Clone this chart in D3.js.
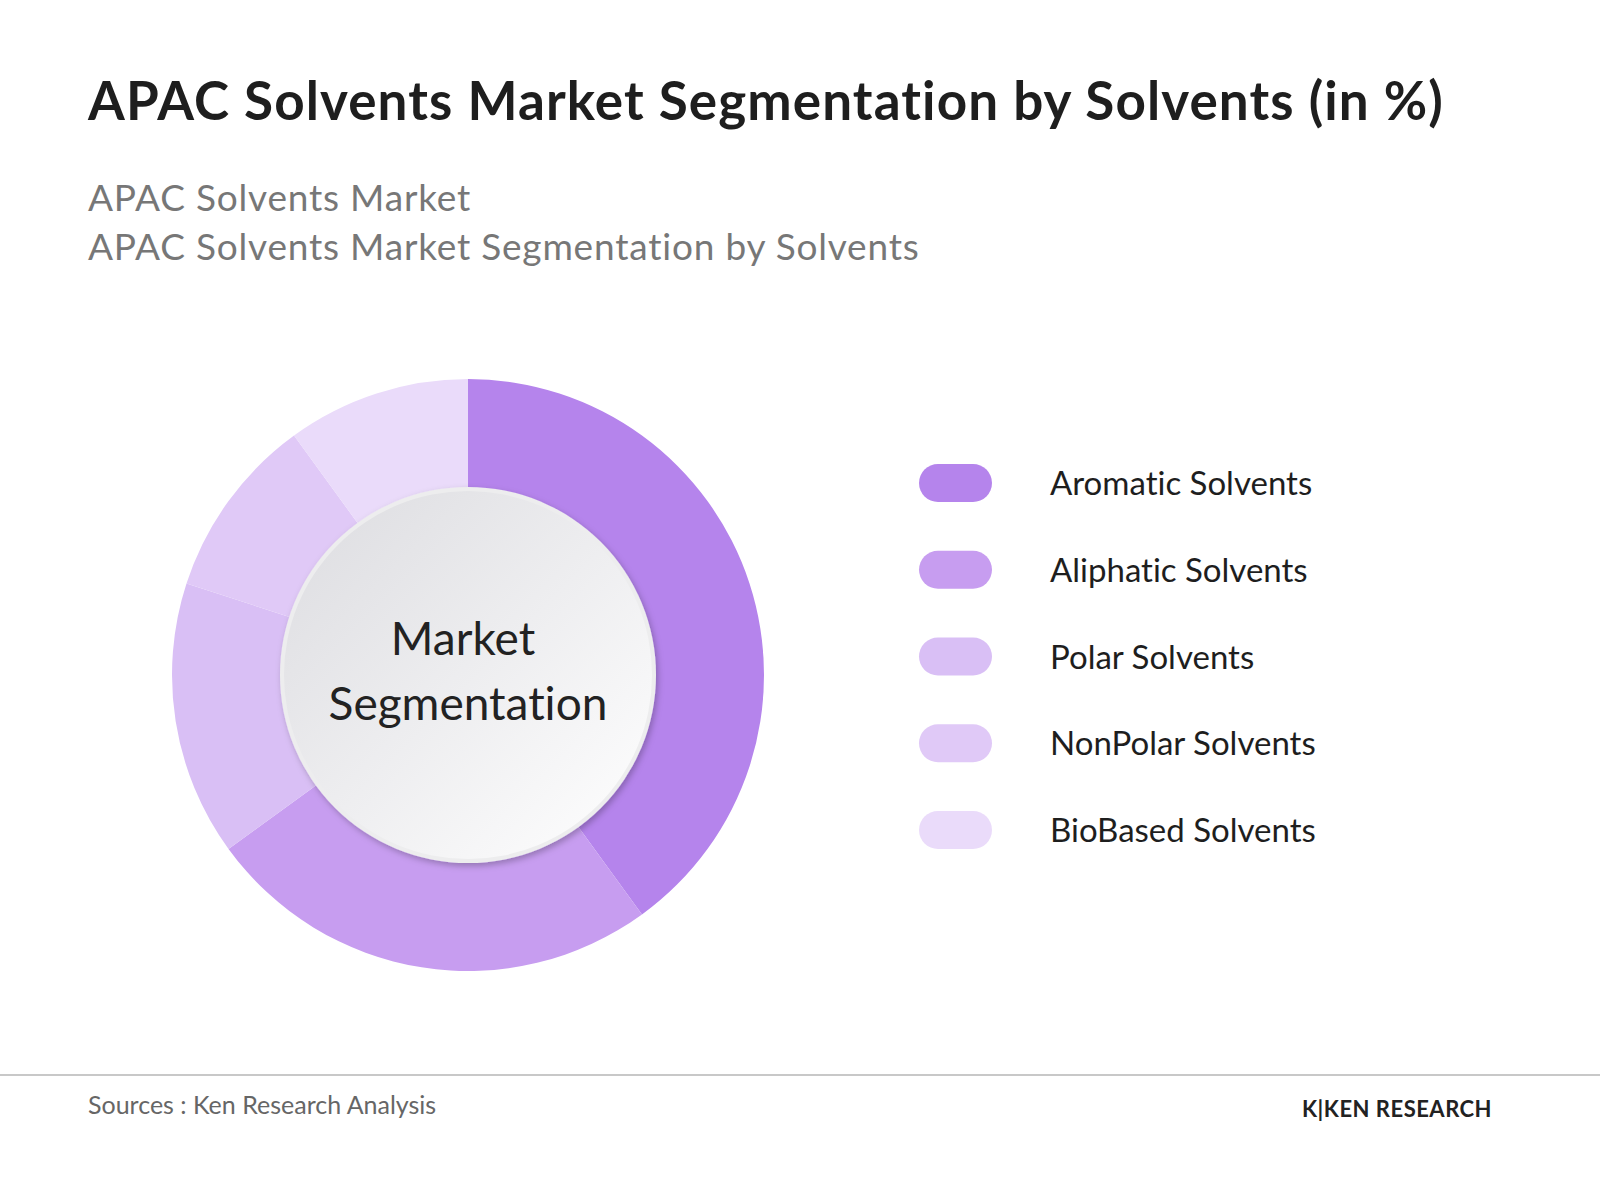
<!DOCTYPE html>
<html><head><meta charset="utf-8">
<script src="https://cdn.jsdelivr.net/npm/d3@7"></script>
<style>body{margin:0;background:#fff} svg text{font-variant-ligatures:none}</style>
</head><body>
<script>
const categories = ["Aromatic Solvents", "Aliphatic Solvents", "Polar Solvents", "NonPolar Solvents", "BioBased Solvents"];
const shares = [40, 25, 15, 10, 10];
const colors = ["#b584ec", "#c79df0", "#d9bff5", "#e0c9f7", "#eadbfa"];

const W = 1600, H = 1200;
const svg = d3.select("body").append("svg").attr("width", W).attr("height", H)
  .style("font-family", "Lato, sans-serif");

const defs = svg.append("defs");
const g = defs.append("linearGradient").attr("id", "cg")
  .attr("x1", "0").attr("y1", "0").attr("x2", "1").attr("y2", "1");
g.append("stop").attr("offset", "0").attr("stop-color", "#dcdce0");
g.append("stop").attr("offset", "1").attr("stop-color", "#ffffff");
const f = defs.append("filter").attr("id", "sh").attr("x", "-20%").attr("y", "-20%").attr("width", "140%").attr("height", "140%");
f.append("feDropShadow").attr("dx", 2).attr("dy", 3).attr("stdDeviation", 3).attr("flood-color", "#000").attr("flood-opacity", 0.25);

svg.append("text").attr("x", 88).attr("y", 120).attr("font-size", 53).attr("font-weight", 700)
  .attr("letter-spacing", 1.1).attr("fill", "#1e1e1e").text("APAC Solvents Market Segmentation by Solvents (in %)");
svg.append("text").attr("x", 88).attr("y", 211).attr("font-size", 37).attr("letter-spacing", 0.8).attr("fill", "#777").text("APAC Solvents Market");
svg.append("text").attr("x", 88).attr("y", 260).attr("font-size", 37).attr("letter-spacing", 0.8).attr("fill", "#777").text("APAC Solvents Market Segmentation by Solvents");

const cx = 468, cy = 675, outer = 296, inner = 184;
const pie = d3.pie().sort(null)(shares);
const arc = d3.arc().innerRadius(inner - 10).outerRadius(outer);
const chart = svg.append("g").attr("transform", `translate(${cx},${cy})`);
chart.selectAll("path").data(pie).join("path").attr("d", arc).attr("fill", (d, i) => colors[i]);
chart.append("circle").attr("r", inner + 4).attr("fill", "#ededee").attr("filter", "url(#sh)");
chart.append("circle").attr("r", inner).attr("fill", "url(#cg)");
chart.append("text").attr("text-anchor", "middle").attr("x", -5).attr("y", -20).attr("font-size", 46).attr("fill", "#222").text("Market");
chart.append("text").attr("text-anchor", "middle").attr("y", 45).attr("font-size", 46).attr("fill", "#222").text("Segmentation");

const y = d3.scalePoint().domain(categories).range([483, 830]);
const leg = svg.append("g").selectAll("g").data(categories).join("g")
  .attr("transform", d => `translate(0,${y(d)})`);
leg.append("rect").attr("x", 919).attr("y", -19).attr("width", 73).attr("height", 38).attr("rx", 19)
  .attr("fill", (d, i) => colors[i]);
leg.append("text").attr("x", 1050).attr("y", 12).attr("font-size", 33).attr("fill", "#1e1e1e").text(d => d);

svg.append("line").attr("x1", 0).attr("x2", W).attr("y1", 1075).attr("y2", 1075).attr("stroke", "#c8c8c8").attr("stroke-width", 2);
svg.append("text").attr("x", 88).attr("y", 1114).attr("font-size", 25).attr("fill", "#666").text("Sources : Ken Research Analysis");
svg.append("text").attr("x", 1302).attr("y", 1117).attr("font-size", 22).attr("font-weight", 700).attr("letter-spacing", 0.5).attr("fill", "#222").text("K|KEN RESEARCH");
</script>
</body></html>
